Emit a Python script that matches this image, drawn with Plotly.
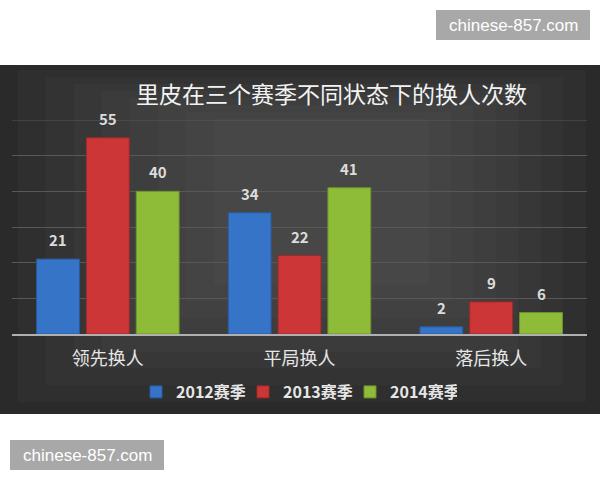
import plotly.graph_objects as go

# data
categories = ["领先换人", "平局换人", "落后换人"]
seasons = ["2012赛季", "2013赛季", "2014赛季"]
values_2012 = [21, 34, 2]
values_2013 = [55, 22, 9]
values_2014 = [40, 41, 6]
series = [values_2012, values_2013, values_2014]
colors = ["#3674c8", "#cd3636", "#8fbc38"]
edge_colors = ["#2a5a9e", "#a02828", "#6e9428"]

title_text = "里皮在三个赛季不同状态下的换人次数"
watermark = "chinese-857.com"

# plot area in pixels (600x480 page)
L, R, T, B = 12, 587, 120, 334
W, H = 600, 480
BARGAP, GROUPGAP = 0.22, 0.14


def xp(px):
    return (px - L) / (R - L)


def yp(py):
    return (B - py) / (B - T)


fig = go.Figure()
for name, vals, c, ec in zip(seasons, series, colors, edge_colors):
    fig.add_trace(go.Bar(
        x=categories, y=vals, name=name,
        marker=dict(color=c, line=dict(color=ec, width=1)),
    ))

# value labels sit a little higher than plotly's own outside text
slot = (R - L) / len(categories) * (1 - BARGAP) / len(series)
annotations = []
for i, vals in enumerate(series):
    for cat, v in zip(categories, vals):
        annotations.append(dict(
            x=cat, y=v, text=str(v), showarrow=False, xref="x", yref="y",
            xanchor="center", yanchor="bottom", xshift=(i - 1) * slot, yshift=7,
            font=dict(family="Noto Sans CJK SC", size=15, color="#dcdcdc", weight="bold")))

shapes = []
# dark panel with a soft lighter centre
shapes.append(dict(type="rect", xref="paper", yref="paper", layer="below",
                   x0=xp(0), x1=xp(W), y0=yp(414), y1=yp(65),
                   fillcolor="#2a2a2a", line=dict(width=0)))
for i in range(8):
    dx = 18 + i * 28
    dy = 10 + i * 14
    shapes.append(dict(type="rect", xref="paper", yref="paper", layer="below",
                       x0=xp(dx), x1=xp(W - dx * 0.8), y0=yp(414 - dy * 1.2), y1=yp(65 + dy * 0.5),
                       fillcolor="rgba(110,110,110,0.07)", line=dict(width=0)))
# top gridline (plotly skips the one on the plot edge)
shapes.append(dict(type="line", xref="paper", yref="y", layer="below",
                   x0=0, x1=1, y0=60, y1=60, line=dict(color="#585858", width=1)))
# watermark boxes
shapes.append(dict(type="rect", xref="paper", yref="paper", layer="below",
                   x0=xp(436), x1=xp(590), y0=yp(40), y1=yp(10),
                   fillcolor="#a8a8a8", line=dict(width=0)))
shapes.append(dict(type="rect", xref="paper", yref="paper", layer="below",
                   x0=xp(10), x1=xp(164), y0=yp(470), y1=yp(440),
                   fillcolor="#a8a8a8", line=dict(width=0)))

annotations += [
    dict(text=title_text, x=xp(331), y=yp(93), xref="paper", yref="paper",
         xanchor="center", yanchor="middle", showarrow=False,
         font=dict(family="Noto Sans CJK SC", size=23, color="#f2f2f2")),
    dict(text=watermark, x=xp(513), y=yp(25), xref="paper", yref="paper",
         xanchor="center", yanchor="middle", showarrow=False,
         font=dict(family="Liberation Sans", size=17, color="#ffffff")),
    dict(text=watermark, x=xp(87), y=yp(455), xref="paper", yref="paper",
         xanchor="center", yanchor="middle", showarrow=False,
         font=dict(family="Liberation Sans", size=17, color="#ffffff")),
]

fig.update_layout(
    width=W, height=H,
    margin=dict(l=L, r=W - R, t=T, b=H - B, autoexpand=False),
    paper_bgcolor="white",
    plot_bgcolor="rgba(0,0,0,0)",
    barmode="group", bargap=BARGAP, bargroupgap=GROUPGAP,
    shapes=shapes, annotations=annotations,
    showlegend=True,
    legend=dict(orientation="h", x=xp(136), xanchor="left", y=yp(392), yanchor="middle",
                font=dict(family="Noto Sans CJK SC", size=16, color="#e6e6e6", weight="bold"),
                itemwidth=30, entrywidth=62, entrywidthmode="pixels",
                bgcolor="rgba(0,0,0,0)"),
    xaxis=dict(showline=True, linecolor="#b0b0b0", linewidth=1.5, ticks="",
               tickfont=dict(family="Noto Sans CJK SC", size=18, color="#e6e6e6"),
               ticklabelstandoff=8, fixedrange=True, automargin=False),
    yaxis=dict(range=[0, 60], dtick=10, showticklabels=False, gridcolor="#585858",
               gridwidth=1, zeroline=False, fixedrange=True, automargin=False),
)

# the page body has an 8px default margin; drop it so the figure starts at 0,0
fig.write_html("out.html", config={"displayModeBar": False},
               post_script="document.body.style.margin='0';")
